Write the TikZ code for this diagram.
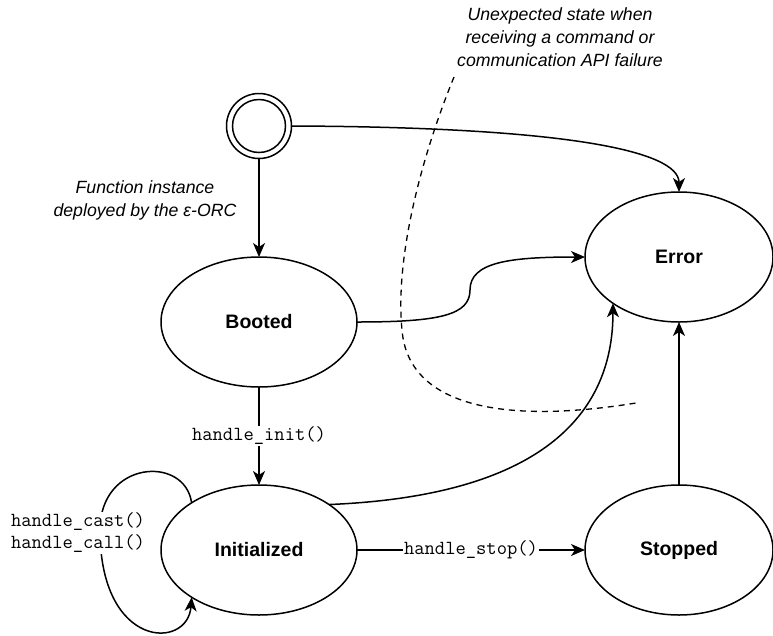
\documentclass[tikz,border=0pt]{standalone}
\usepackage{fontspec}
\setmainfont{Liberation Sans}
\usetikzlibrary{shapes.geometric,arrows.meta}

\begin{document}
\begin{tikzpicture}[x=1pt,y=-1pt,
  state/.style={ellipse,draw,line width=1.5pt,minimum width=196pt,minimum height=130pt,
    inner sep=0pt,outer sep=0pt,font=\fontsize{19.5}{23}\selectfont\bfseries},
  sidestate/.style={state,minimum width=188pt},
  initring/.style={circle,draw,line width=1.5pt,inner sep=0pt,outer sep=0pt},
  trans/.style={line width=1.5pt,-{Stealth[length=14pt,width=12pt,inset=4pt]}},
  codelbl/.style={fill=white,inner sep=1pt,align=center,font=\fontsize{20}{22}\selectfont\ttfamily},
  note/.style={align=center,font=\fontsize{17.7}{23}\selectfont\itshape},
  fault/.style={line width=1.3pt,dash pattern=on 6pt off 5pt}]

\fill[white] (0,0) rectangle (773,635);
\useasboundingbox (0,0) rectangle (773,635);

% states
\node[initring,minimum size=65pt] (start) at (259,126) {};
\node[initring,minimum size=53pt] (startcore) at (start) {};
\node[state] (booted) at (259,322) {Booted};
\node[state] (initd) at (259,550) {Initialized};
\node[sidestate] (error) at (679,257) {Error};
\node[sidestate] (stopped) at (679,550) {Stopped};

% notes
\node[note] (deploynote) at (145,200) {Function instance\\deployed by the ε-ORC};
\node[note] (faultnote) at (560,37) {Unexpected state when\\receiving a command or\\communication API failure};

% fault boundary
\coordinate (faulttop) at (454,77);
\coordinate (faultmid) at (402,330);
\coordinate (faultend) at (636,403);
\draw[fault] (faulttop) .. controls (420,160) and (395,260) .. (faultmid)
  .. controls (408,405) and (500,425) .. (faultend);

% transitions
\draw[trans] (start.south) -- (booted.north);
\draw[trans] (start.east) .. controls (560,127) and (679,150) .. (error.north);
\draw[trans] (booted.east) .. controls (440,322) and (470,315) .. (470,290)
  .. controls (470,262) and (510,257) .. (error.west);
\draw[trans] (booted.south) -- node[codelbl] (initlbl) {handle\_init()} (initd.north);
\draw[trans] (initd.33.7) .. controls (560,495) and (613,400) .. (error.215.5);
\draw[trans] (initd.east) -- node[codelbl] (stoplbl) {handle\_stop()} (stopped.west);
\draw[trans] (stopped.north) -- (error.south);
\draw[trans] (initd.145.7) .. controls (185,455) and (100,460) .. (100,530)
  .. controls (100,650) and (188,650) .. (initd.215.6);
\node[codelbl] (looplbl) at (78,533) {handle\_cast()\\handle\_call()};

\end{tikzpicture}
\end{document}
